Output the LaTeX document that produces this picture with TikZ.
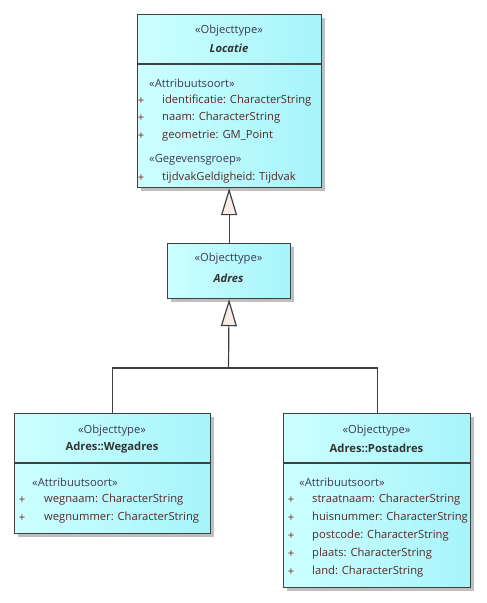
\documentclass[tikz,border=0pt]{standalone}
\usepackage{fontspec}
\setmainfont{Open Sans}
\usetikzlibrary{arrows.meta}
\usetikzlibrary{shadows}
\definecolor{boxleft}{HTML}{CCFFFF}
\definecolor{boxright}{HTML}{A6F4FA}
\definecolor{boxline}{HTML}{404040}
\definecolor{stereocol}{HTML}{3A3A55}
\definecolor{attrcol}{HTML}{5A2828}
\definecolor{pluscol}{HTML}{7A1E1E}
\definecolor{tripink}{HTML}{F8ECE8}
\newcommand{\umlfont}{\fontsize{11.2}{13}\selectfont}

\begin{document}
\begin{tikzpicture}[x=1pt, y=-1pt,
  klasse/.style={draw=boxline, line width=1.2pt, left color=boxleft, right color=boxright,
    drop shadow={shadow xshift=3pt, shadow yshift=-3pt, fill=black!25, opacity=1},
    inner sep=0pt, anchor=north west},
  stereo/.style={text=stereocol, inner sep=0pt, font=\umlfont},
  naam/.style={text=black!80, inner sep=0pt, font=\umlfont\bfseries},
  kop/.style={text=stereocol, inner sep=0pt, anchor=west, font=\umlfont},
  plusje/.style={text=pluscol, inner sep=0pt, font=\umlfont},
  attr/.style={text=attrcol, inner sep=0pt, anchor=west, font=\umlfont},
  deel/.style={draw=boxline, line width=1.2pt},
  lijn/.style={draw=boxline, line width=1.2pt},
  erft/.style={lijn, -{Triangle[width=16pt, length=27pt, fill=tripink]}}]
\useasboundingbox[fill=white] (0,0) rectangle (487,603);

% Locatie
\node[klasse, minimum width=184pt, minimum height=173pt] (locatie) at (137,14) {};
\node[stereo] (locatie-st) at (229,31) {«Objecttype»};
\node[naam, font=\umlfont\bfseries\itshape] (locatie-nm) at (229,48) {Locatie};
\draw[deel] (locatie.west |- 0,64) -- (locatie.east |- 0,64);
\node[kop] (locatie-k1) at (149,83) {«Attribuutsoort»};
\foreach \y/\t [count=\i] in {101/identificatie: CharacterString, 118/naam: CharacterString, 136/geometrie: GM\_Point} {
  \node[plusje] (locatie-p\i) at (141,\y) {+};
  \node[attr] (locatie-a\i) at (162,\y) {\t};
}
\node[kop] (locatie-k2) at (149,160) {«Gegevensgroep»};
\node[plusje] (locatie-p4) at (141,178) {+};
\node[attr] (locatie-a4) at (162,178) {tijdvakGeldigheid: Tijdvak};

% Adres
\node[klasse, minimum width=123pt, minimum height=55pt] (adres) at (167,243) {};
\node[stereo] (adres-st) at (228.5,259) {«Objecttype»};
\node[naam, font=\umlfont\bfseries\itshape] (adres-nm) at (228.5,278) {Adres};

% Wegadres
\node[klasse, minimum width=196pt, minimum height=120pt] (wegadres) at (14,413) {};
\node[stereo] (wegadres-st) at (112,431) {«Objecttype»};
\node[naam] (wegadres-nm) at (112,448) {Adres::Wegadres};
\draw[deel] (wegadres.west |- 0,463) -- (wegadres.east |- 0,463);
\node[kop] (wegadres-k1) at (32,482) {«Attribuutsoort»};
\foreach \y/\t [count=\i] in {500/wegnaam: CharacterString, 518/wegnummer: CharacterString} {
  \node[plusje] (wegadres-p\i) at (22,\y) {+};
  \node[attr] (wegadres-a\i) at (44,\y) {\t};
}

% Postadres
\node[klasse, minimum width=187pt, minimum height=174pt] (postadres) at (283,413) {};
\node[stereo] (postadres-st) at (376.5,431) {«Objecttype»};
\node[naam] (postadres-nm) at (376.5,448) {Adres::Postadres};
\draw[deel] (postadres.west |- 0,463) -- (postadres.east |- 0,463);
\node[kop] (postadres-k1) at (299,482) {«Attribuutsoort»};
\foreach \y/\t [count=\i] in {500/straatnaam: CharacterString, 518/huisnummer: CharacterString,
  536/postcode: CharacterString, 554/plaats: CharacterString, 572/land: CharacterString} {
  \node[plusje] (postadres-p\i) at (291,\y) {+};
  \node[attr] (postadres-a\i) at (312,\y) {\t};
}

% generalisaties
\draw[erft] (adres.north) -- (adres.north |- locatie.south);
\coordinate (splitsing) at (228.5,368);
\draw[erft] (splitsing) -- (adres.south);
\draw[lijn] (wegadres.north) |- (splitsing);
\draw[lijn] (postadres.north) |- (splitsing);
\end{tikzpicture}
\end{document}
